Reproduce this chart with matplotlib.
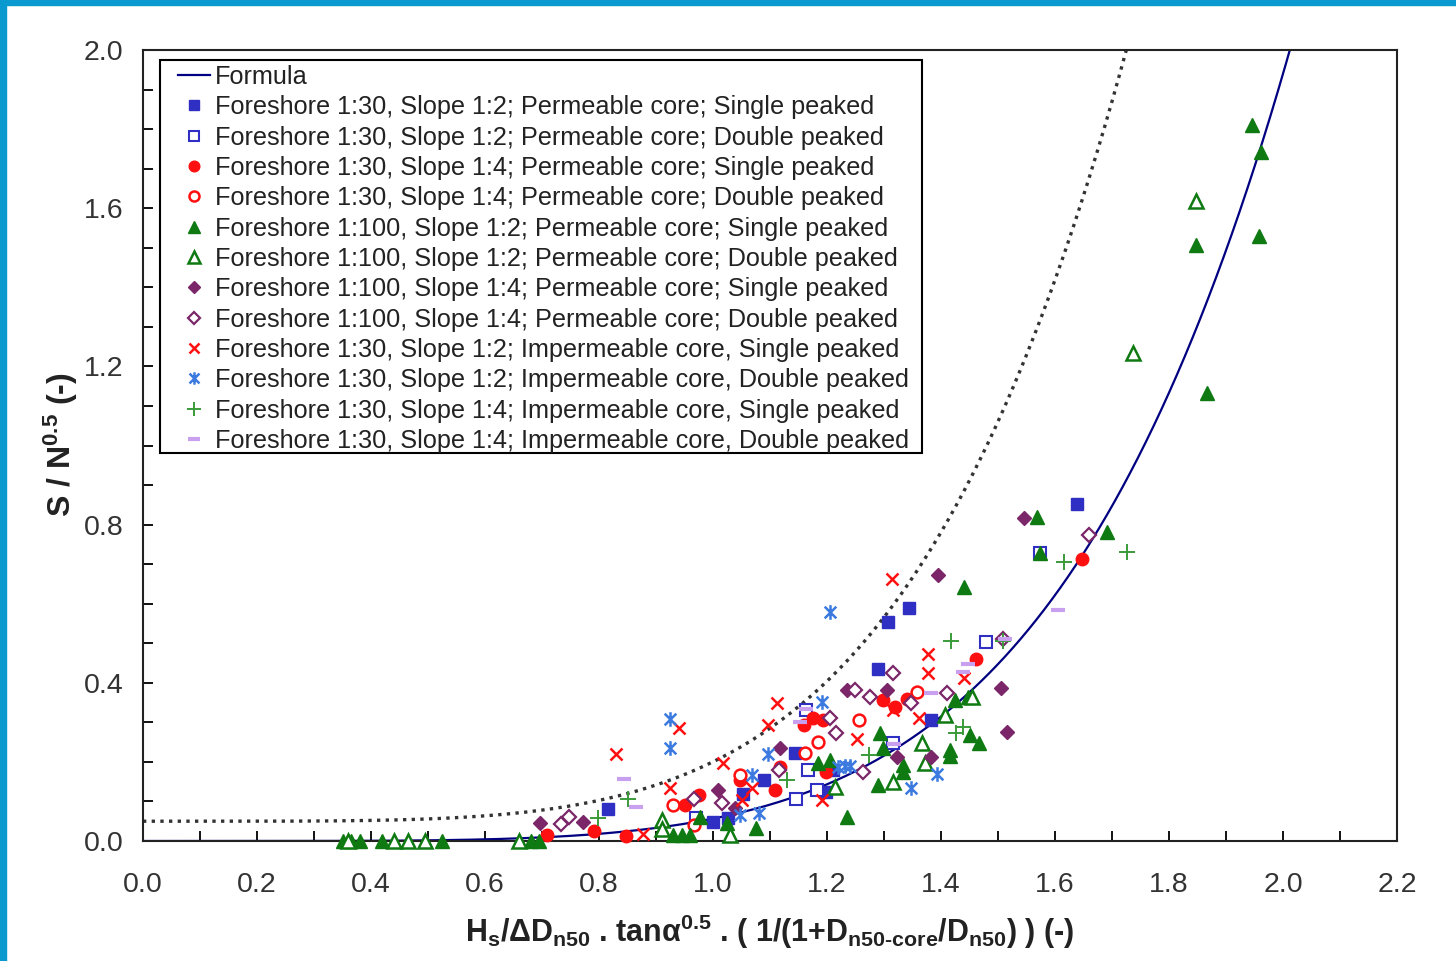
import matplotlib
matplotlib.use("Agg")
import matplotlib.pyplot as plt
import numpy as np
from matplotlib.path import Path
from matplotlib.patches import Rectangle
from matplotlib.ticker import MultipleLocator

plt.rcParams["font.family"] = ["Liberation Sans", "DejaVu Sans"]
plt.rcParams["mathtext.fontset"] = "custom"
plt.rcParams["mathtext.rm"] = "Liberation Sans:bold"
plt.rcParams["mathtext.it"] = "Liberation Sans:bold"
plt.rcParams["mathtext.bf"] = "Liberation Sans:bold"
plt.rcParams["mathtext.sf"] = "Liberation Sans:bold"

# ---------------------------------------------------------------------------
# measured damage per test series (x = stability parameter, y = S / N^0.5)
# ---------------------------------------------------------------------------
fs30_s12_perm_single_x = [0.816, 1.000, 1.027, 1.053, 1.089, 1.144, 1.199, 1.211,
                          1.290, 1.307, 1.344, 1.383, 1.638]
fs30_s12_perm_single_y = [0.081, 0.049, 0.057, 0.120, 0.154, 0.223, 0.124, 0.180,
                          0.436, 0.554, 0.590, 0.307, 0.853]

fs30_s12_perm_double_x = [0.971, 1.146, 1.167, 1.164, 1.182, 1.315, 1.479, 1.573]
fs30_s12_perm_double_y = [0.059, 0.107, 0.180, 0.331, 0.129, 0.247, 0.504, 0.727]

fs30_s14_perm_single_x = [0.708, 0.792, 0.847, 0.950, 0.976, 1.047, 1.108, 1.118,
                          1.159, 1.176, 1.193, 1.199, 1.299, 1.319, 1.340, 1.462, 1.647]
fs30_s14_perm_single_y = [0.015, 0.026, 0.013, 0.092, 0.117, 0.154, 0.129, 0.188,
                          0.293, 0.310, 0.307, 0.175, 0.357, 0.339, 0.360, 0.459, 0.714]

fs30_s14_perm_double_x = [0.930, 0.966, 1.047, 1.161, 1.185, 1.257, 1.358]
fs30_s14_perm_double_y = [0.091, 0.040, 0.167, 0.223, 0.251, 0.306, 0.377]

fs100_s12_perm_single_x = [0.350, 0.365, 0.380, 0.420, 0.525, 0.680, 0.695, 0.930,
                           0.945, 0.960, 0.977, 1.024, 1.076, 1.185, 1.205, 1.235,
                           1.290, 1.293, 1.299, 1.334, 1.334, 1.416, 1.416, 1.425,
                           1.448, 1.440, 1.451, 1.467, 1.568, 1.573, 1.691, 1.866,
                           1.847, 1.945, 1.961, 1.958]
fs100_s12_perm_single_y = [0.0, 0.0, 0.0, 0.0, 0.0, 0.0, 0.0, 0.015,
                           0.015, 0.015, 0.061, 0.045, 0.032, 0.196, 0.205, 0.061,
                           0.142, 0.272, 0.234, 0.192, 0.175, 0.230, 0.214, 0.357,
                           0.365, 0.641, 0.268, 0.247, 0.820, 0.727, 0.782, 1.133,
                           1.507, 1.810, 1.743, 1.530]

fs100_s12_perm_double_x = [0.360, 0.440, 0.465, 0.495, 0.660, 0.910, 0.910, 1.030,
                           1.214, 1.316, 1.366, 1.372, 1.407, 1.455, 1.737, 1.848]
fs100_s12_perm_double_y = [0.0, 0.0, 0.0, 0.0, 0.0, 0.053, 0.030, 0.015,
                           0.137, 0.150, 0.247, 0.196, 0.319, 0.365, 1.233, 1.617]

fs100_s14_perm_single_x = [0.696, 0.772, 1.009, 1.039, 1.118, 1.235, 1.305, 1.323,
                           1.383, 1.395, 1.506, 1.515, 1.546]
fs100_s14_perm_single_y = [0.045, 0.047, 0.129, 0.083, 0.234, 0.382, 0.382, 0.213,
                           0.213, 0.673, 0.386, 0.276, 0.816]

fs100_s14_perm_double_x = [0.734, 0.747, 0.966, 1.015, 1.115, 1.205, 1.215, 1.249,
                           1.264, 1.275, 1.316, 1.348, 1.410, 1.509, 1.660]
fs100_s14_perm_double_y = [0.042, 0.061, 0.105, 0.095, 0.180, 0.310, 0.272, 0.382,
                           0.175, 0.365, 0.424, 0.348, 0.375, 0.510, 0.774]

fs30_s12_imp_single_x = [0.830, 0.878, 0.925, 0.940, 1.018, 1.050, 1.068, 1.097,
                         1.113, 1.191, 1.252, 1.314, 1.316, 1.362, 1.378, 1.378, 1.440]
fs30_s12_imp_single_y = [0.220, 0.018, 0.133, 0.285, 0.196, 0.104, 0.133, 0.293,
                         0.348, 0.104, 0.259, 0.662, 0.331, 0.310, 0.473, 0.424, 0.411]

fs30_s12_imp_double_x = [0.925, 0.925, 1.047, 1.068, 1.081, 1.097, 1.191, 1.205,
                         1.220, 1.232, 1.240, 1.347, 1.393]
fs30_s12_imp_double_y = [0.308, 0.234, 0.066, 0.167, 0.070, 0.221, 0.352, 0.580,
                         0.187, 0.190, 0.190, 0.135, 0.169]

fs30_s14_imp_single_x = [0.799, 0.850, 1.130, 1.273, 1.418, 1.439, 1.427, 1.509,
                         1.616, 1.727]
fs30_s14_imp_single_y = [0.057, 0.107, 0.154, 0.217, 0.506, 0.289, 0.272, 0.506,
                         0.706, 0.731]

fs30_s14_imp_double_x = [0.843, 0.865, 1.153, 1.164, 1.317, 1.383, 1.439, 1.448,
                         1.512, 1.606]
fs30_s14_imp_double_y = [0.156, 0.087, 0.302, 0.335, 0.245, 0.375, 0.428, 0.448,
                         0.510, 0.584]

series_labels = [
    "Foreshore 1:30, Slope 1:2; Permeable core; Single peaked",
    "Foreshore 1:30, Slope 1:2; Permeable core; Double peaked",
    "Foreshore 1:30, Slope 1:4; Permeable core; Single peaked",
    "Foreshore 1:30, Slope 1:4; Permeable core; Double peaked",
    "Foreshore 1:100, Slope 1:2; Permeable core; Single peaked",
    "Foreshore 1:100, Slope 1:2; Permeable core; Double peaked",
    "Foreshore 1:100, Slope 1:4; Permeable core; Single peaked",
    "Foreshore 1:100, Slope 1:4; Permeable core; Double peaked",
    "Foreshore 1:30, Slope 1:2; Impermeable core, Single peaked",
    "Foreshore 1:30, Slope 1:2; Impermeable core, Double peaked",
    "Foreshore 1:30, Slope 1:4; Impermeable core, Single peaked",
    "Foreshore 1:30, Slope 1:4; Impermeable core, Double peaked",
]

# formula parameters: S/N^0.5 = s_max * (x / x_ref)^power
formula_x_ref = 2.012
formula_s_max = 2.0
formula_power = 5.1
# upper (dotted) bound: offset + coef * x^power
bound_offset = 0.05
bound_coef = 0.1503
bound_power = 4.7

# custom "x with a vertical bar" marker
star_marker = Path(
    [(-1, -1), (1, 1), (-1, 1), (1, -1), (0, -1.25), (0, 1.25)],
    [Path.MOVETO, Path.LINETO] * 3,
)

BLUE = "#2f2fc4"
RED = "#ff1010"
GREEN = "#0f7a12"
PURPLE = "#7a2668"
LBLUE = "#3c7ae0"
LGREEN = "#3a9a3a"
LAVENDER = "#c9a0f0"

styles = [
    dict(marker="s", ms=8, mfc=BLUE, mec=BLUE, mew=1),
    dict(marker="s", ms=8, mfc="white", mec=BLUE, mew=1.5),
    dict(marker="o", ms=9, mfc=RED, mec=RED, mew=1),
    dict(marker="o", ms=8.5, mfc="white", mec=RED, mew=1.8),
    dict(marker="^", ms=9.5, mfc=GREEN, mec=GREEN, mew=1),
    dict(marker="^", ms=9.5, mfc="white", mec=GREEN, mew=1.8),
    dict(marker="D", ms=7.5, mfc=PURPLE, mec=PURPLE, mew=1),
    dict(marker="D", ms=7, mfc="white", mec=PURPLE, mew=1.6),
    dict(marker="x", ms=9, mfc=RED, mec=RED, mew=1.8),
    dict(marker=star_marker, ms=10.5, mfc=LBLUE, mec=LBLUE, mew=1.8),
    dict(marker="+", ms=11.5, mfc=LGREEN, mec=LGREEN, mew=1.4),
    dict(marker="_", ms=10.5, mfc=LAVENDER, mec=LAVENDER, mew=3),
]

series = [
    (fs30_s12_perm_single_x, fs30_s12_perm_single_y),
    (fs30_s12_perm_double_x, fs30_s12_perm_double_y),
    (fs30_s14_perm_single_x, fs30_s14_perm_single_y),
    (fs30_s14_perm_double_x, fs30_s14_perm_double_y),
    (fs100_s12_perm_single_x, fs100_s12_perm_single_y),
    (fs100_s12_perm_double_x, fs100_s12_perm_double_y),
    (fs100_s14_perm_single_x, fs100_s14_perm_single_y),
    (fs100_s14_perm_double_x, fs100_s14_perm_double_y),
    (fs30_s12_imp_single_x, fs30_s12_imp_single_y),
    (fs30_s12_imp_double_x, fs30_s12_imp_double_y),
    (fs30_s14_imp_single_x, fs30_s14_imp_single_y),
    (fs30_s14_imp_double_x, fs30_s14_imp_double_y),
]

W, H = 1456, 961
fig = plt.figure(figsize=(W / 100, H / 100), dpi=100)
ax = fig.add_axes([143 / W, 120 / H, 1254 / W, 791 / H])

xs = np.linspace(0, 2.05, 600)
ax.plot(xs, formula_s_max * (xs / formula_x_ref) ** formula_power,
        color="#000080", lw=1.6, label="Formula", zorder=2)
ax.plot(xs, bound_offset + bound_coef * xs ** bound_power,
        color="#333333", lw=2.4, ls=(0, (1, 1.6)), zorder=2)

for (sx, sy), st, lab in zip(series, styles, series_labels):
    ax.plot(sx, sy, ls="none", label=lab, zorder=3, clip_on=False, **st)

ax.set_xlim(0, 2.2)
ax.set_ylim(0, 2.0)
ax.xaxis.set_major_locator(MultipleLocator(0.2))
ax.xaxis.set_minor_locator(MultipleLocator(0.1))
ax.yaxis.set_major_locator(MultipleLocator(0.4))
ax.yaxis.set_minor_locator(MultipleLocator(0.1))
ax.xaxis.set_major_formatter(plt.FormatStrFormatter("%.1f"))
ax.yaxis.set_major_formatter(plt.FormatStrFormatter("%.1f"))
ax.tick_params(which="both", direction="in", length=7, width=1.4,
               top=False, right=False, color="#111111")
ax.tick_params(axis="x", which="major", pad=22, labelsize=20.5, labelcolor="#333333")
ax.tick_params(axis="y", which="major", pad=14, labelsize=20.5, labelcolor="#333333")
for sp in ax.spines.values():
    sp.set_linewidth(1.5)
    sp.set_color("#222222")

# legend box drawn separately so its padding can be set exactly
ax.add_patch(Rectangle((160 / W, 1 - 453 / H), 762 / W, 393 / H,
                       transform=fig.transFigure, facecolor="white",
                       edgecolor="black", lw=1.5, zorder=4.9, clip_on=False))
leg = ax.legend(loc="upper left", bbox_to_anchor=(178 / W, 1 - 65 / H),
                bbox_transform=fig.transFigure, borderaxespad=0, borderpad=0,
                fontsize=18.2, frameon=False, handlelength=1.27,
                handletextpad=0.2, labelspacing=0.25,
                markerscale=0.85, numpoints=1)
leg.set_zorder(5)
for t in leg.get_texts():
    t.set_color("#222222")

fig.text(770 / W, 1 - 932 / H,
         r"H$_\mathregular{s}$/ΔD$_\mathregular{n50}$ . tanα$^\mathregular{0.5}$ . "
         r"( 1/(1+D$_\mathregular{n50\text{-}core}$/D$_\mathregular{n50}$) ) (-)",
         ha="center", va="center", fontsize=22, fontweight="bold", color="#222222")
fig.text(61 / W, 1 - 445 / H, r"S / N$^\mathregular{0.5}$ (-)",
         ha="center", va="center", rotation=90, fontsize=23, fontweight="bold",
         color="#222222")

# blue frame strips on the top and left edge
fig.patches.append(Rectangle((0, 1 - 5 / H), 1, 5 / H, transform=fig.transFigure,
                             color="#0a9ad0", zorder=10))
fig.patches.append(Rectangle((0, 0), 6 / W, 1, transform=fig.transFigure,
                             color="#0a9ad0", zorder=10))

fig.savefig("out.png", dpi=100)
